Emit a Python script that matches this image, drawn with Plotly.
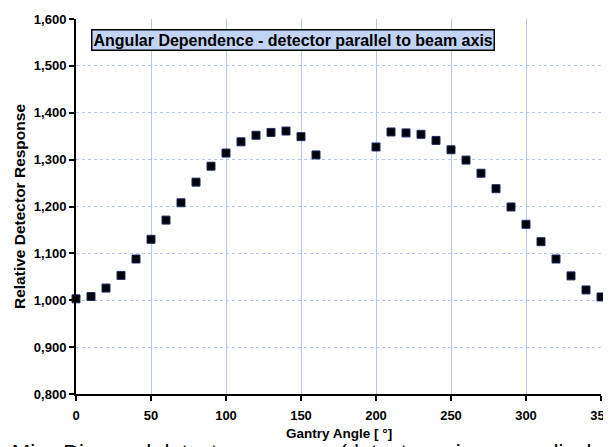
import plotly.graph_objects as go

angles_a = [0, 10, 20, 30, 40, 50, 60, 70, 80, 90, 100, 110, 120, 130, 140, 150, 160]
resp_a = [1.003, 1.008, 1.026, 1.053, 1.088, 1.130, 1.171, 1.208, 1.252, 1.286,
          1.314, 1.338, 1.352, 1.358, 1.361, 1.349, 1.310]
angles_b = [200, 210, 220, 230, 240, 250, 260, 270, 280, 290, 300, 310, 320, 330, 340, 350]
resp_b = [1.327, 1.359, 1.357, 1.354, 1.341, 1.321, 1.299, 1.271, 1.238, 1.199,
          1.162, 1.125, 1.088, 1.052, 1.022, 1.007]

x_ticks = [0, 50, 100, 150, 200, 250, 300, 350]
y_ticks = [0.8, 0.9, 1.0, 1.1, 1.2, 1.3, 1.4, 1.5, 1.6]

title_text = "Angular Dependence - detector parallel to beam axis"
x_title = "Gantry Angle [ °]"
y_title = "Relative Detector Response"
footer_text = "• Miss Diamond detector response (detector axis perpendicular"

FONT = "Liberation Sans, Arial, sans-serif"
GRID = "#b3c7ef"

# page body has an 8px default margin; figure is sized to fill the rest of the window
L, T, PW, PH = 68, 11, 525, 375
W, H = 603, 439

fig = go.Figure()
fig.add_trace(go.Scatter(
    x=angles_a + angles_b, y=resp_a + resp_b, mode="markers",
    marker=dict(symbol="square", size=8, color="#000008",
                line=dict(color="#1c2c60", width=1)),
    showlegend=False, cliponaxis=False,
))

fig.update_layout(
    width=W, height=H,
    margin=dict(l=L, r=W - L - PW, t=T, b=H - T - PH, autoexpand=False),
    paper_bgcolor="white", plot_bgcolor="white",
    separators=",.",
    font=dict(family=FONT, color="black"),
    xaxis=dict(
        range=[0, 350], tickvals=x_ticks, ticks="outside", ticklen=5, tickwidth=2,
        tickcolor="black", showline=True, linecolor="black", linewidth=2,
        showgrid=True, gridcolor=GRID, gridwidth=1, zeroline=False, automargin=False,
        ticklabeloverflow="allow", ticklabelstandoff=3,
        tickfont=dict(family=FONT, size=13, weight="bold"),
    ),
    yaxis=dict(
        range=[0.8, 1.6], tickvals=y_ticks, tickformat=".3f", ticks="outside", ticklen=5,
        tickwidth=2, tickcolor="black", showline=True, linecolor="black", linewidth=2,
        showgrid=True, gridcolor=GRID, gridwidth=1, griddash="dot", zeroline=False,
        automargin=False, ticklabeloverflow="allow",
        tickfont=dict(family=FONT, size=13, weight="bold"),
        title=dict(text=y_title, font=dict(family=FONT, size=15.5, weight="bold"), standoff=4),
    ),
)

# x-axis title
fig.add_annotation(
    x=0.5, y=1 - (433 - 19) / PH, xref="paper", yref="paper",
    text=x_title, showarrow=False,
    font=dict(family=FONT, size=13.5, weight="bold", color="black"),
    xanchor="center", yanchor="middle",
)

# chart title box
fig.add_annotation(
    x=(91 - 76) / PW, y=1 - (29 - 19) / PH, xref="paper", yref="paper",
    text="<b>" + title_text + "</b>",
    showarrow=False, font=dict(family=FONT, size=16, color="black"),
    bgcolor="#c2d4f6", bordercolor="black", borderwidth=1.5, borderpad=1,
    xanchor="left", yanchor="top",
)

# surrounding document text, cut off by the window edge
fig.add_annotation(
    x=0, y=0, xref="paper", yref="paper", text=footer_text, showarrow=False,
    font=dict(family=FONT, size=22, color="black"), xanchor="left", yanchor="top",
    xshift=-L - 12, yshift=-44,
)

fig.write_html("out.html")
